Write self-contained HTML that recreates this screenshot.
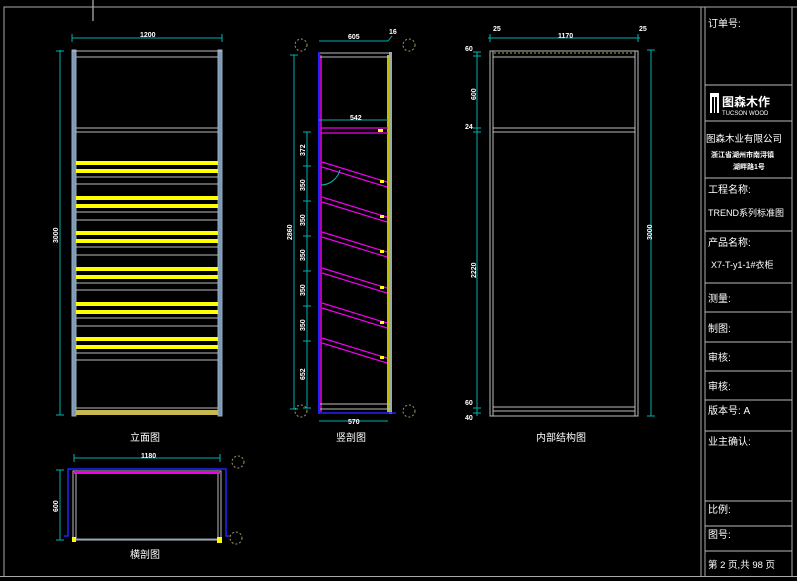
<!DOCTYPE html>
<html><head><meta charset="utf-8"><style>
html,body{margin:0;padding:0;background:#000;width:797px;height:581px;overflow:hidden}
svg{display:block}
text{font-family:"Liberation Sans","Noto Sans CJK SC",sans-serif;fill:#fff}
.d{font-size:7px;font-weight:bold}
.t{font-size:10px}
</style></head><body>
<svg width="797" height="581" viewBox="0 0 797 581" xmlns="http://www.w3.org/2000/svg">
<!-- frame -->
<g stroke="#aaa" stroke-width="1" fill="none">
<line x1="93" y1="0" x2="93" y2="21" stroke="#ddd"/>
<polyline points="4,577 4,7 797,7"/>
<line x1="0" y1="576.5" x2="797" y2="576.5"/>
<line x1="701" y1="7" x2="701" y2="577"/>
<line x1="705" y1="7" x2="705" y2="577"/>
<line x1="792" y1="7" x2="792" y2="577"/>
<g stroke="#bbb">
<line x1="705" y1="85" x2="792" y2="85"/><line x1="705" y1="121" x2="792" y2="121"/>
<line x1="705" y1="178" x2="792" y2="178"/><line x1="705" y1="231" x2="792" y2="231"/>
<line x1="705" y1="283" x2="792" y2="283"/><line x1="705" y1="312" x2="792" y2="312"/>
<line x1="705" y1="342" x2="792" y2="342"/><line x1="705" y1="371" x2="792" y2="371"/>
<line x1="705" y1="400" x2="792" y2="400"/><line x1="705" y1="431" x2="792" y2="431"/>
<line x1="705" y1="501" x2="792" y2="501"/><line x1="705" y1="526" x2="792" y2="526"/>
<line x1="705" y1="551" x2="792" y2="551"/>
</g></g>
<!-- title block text -->
<g class="t">
<text x="708" y="27">订单号:</text>
<rect x="710" y="93" width="9" height="20" fill="#fff"/>
<rect x="712" y="97" width="2" height="16" fill="#000"/><rect x="715" y="97" width="2" height="16" fill="#000"/>
<text x="722" y="106" style="font-size:12px;font-weight:bold">图森木作</text>
<text x="722" y="115" style="font-size:6px">TUCSON WOOD</text>
<text x="706" y="142" style="font-size:9.5px">图森木业有限公司</text>
<text x="711" y="157" style="font-size:7px;font-weight:bold">浙江省湖州市南浔镇</text>
<text x="733" y="169" style="font-size:7px;font-weight:bold">湖畔路1号</text>
<text x="708" y="193">工程名称:</text>
<text x="708" y="216" style="font-size:9px">TREND系列标准图</text>
<text x="708" y="246">产品名称:</text>
<text x="711" y="268" style="font-size:9px">X7-T-y1-1#衣柜</text>
<text x="708" y="302">测量:</text>
<text x="708" y="332">制图:</text>
<text x="708" y="361">审核:</text>
<text x="708" y="390">审核:</text>
<text x="708" y="414">版本号:  A</text>
<text x="708" y="445">业主确认:</text>
<text x="708" y="513">比例:</text>
<text x="708" y="538">图号:</text>
<text x="708" y="568" style="font-size:9.5px">第 2 页,共 98 页</text>
</g>

<!-- ELEVATION -->
<g fill="none">
<rect x="72" y="50" width="4" height="366" fill="#7a9ab8" stroke="#9ab"/>
<rect x="218" y="50" width="4" height="366" fill="#7a9ab8" stroke="#9ab"/>
<g stroke="#bbb">
<line x1="72" y1="51" x2="222" y2="51"/><line x1="76" y1="57" x2="218" y2="57"/>
<line x1="76" y1="128" x2="218" y2="128"/><line x1="76" y1="132" x2="218" y2="132"/>
<line x1="76" y1="177" x2="218" y2="177"/><line x1="76" y1="184" x2="218" y2="184"/>
<line x1="76" y1="212" x2="218" y2="212"/><line x1="76" y1="220" x2="218" y2="220"/>
<line x1="76" y1="247" x2="218" y2="247"/><line x1="76" y1="255" x2="218" y2="255"/>
<line x1="76" y1="283" x2="218" y2="283"/><line x1="76" y1="290" x2="218" y2="290"/>
<line x1="76" y1="318" x2="218" y2="318"/><line x1="76" y1="326" x2="218" y2="326"/>
<line x1="76" y1="353" x2="218" y2="353"/><line x1="76" y1="360" x2="218" y2="360"/>
<line x1="76" y1="408" x2="218" y2="408"/>
</g>
<g fill="#ff0">
<rect x="76" y="161" width="142" height="4"/><rect x="76" y="169" width="142" height="4"/>
<rect x="76" y="196" width="142" height="4"/><rect x="76" y="204" width="142" height="4"/>
<rect x="76" y="231" width="142" height="4"/><rect x="76" y="239" width="142" height="4"/>
<rect x="76" y="267" width="142" height="4"/><rect x="76" y="275" width="142" height="4"/>
<rect x="76" y="302" width="142" height="4"/><rect x="76" y="310" width="142" height="4"/>
<rect x="76" y="337" width="142" height="4"/><rect x="76" y="345" width="142" height="4"/>
</g>
<rect x="76" y="410" width="142" height="5" fill="#c8b850"/>
<g stroke="#00b0b0">
<line x1="72" y1="38" x2="222" y2="38"/><line x1="72" y1="34" x2="72" y2="42"/><line x1="222" y1="34" x2="222" y2="42"/>
<line x1="60" y1="50" x2="60" y2="415"/><line x1="56" y1="51" x2="64" y2="51"/><line x1="56" y1="415" x2="64" y2="415"/>
</g>
</g>
<text class="d" x="140" y="37">1200</text>
<text class="d" transform="translate(58,243) rotate(-90)">3000</text>
<text class="t" x="130" y="441">立面图</text>

<!-- SECTION -->
<g fill="none">
<line x1="319" y1="52" x2="319" y2="414" stroke="#22f" stroke-width="2"/>
<line x1="321" y1="55" x2="321" y2="412" stroke="#e0e" stroke-width="1.5"/>
<rect x="389" y="52" width="3" height="362" fill="#9aa"/>
<line x1="388" y1="55" x2="388" y2="412" stroke="#ff0" stroke-width="1.5"/>
<g stroke="#bbb"><line x1="320" y1="53" x2="390" y2="53"/><line x1="320" y1="57" x2="390" y2="57"/>
<line x1="320" y1="404" x2="390" y2="404"/><line x1="320" y1="409" x2="390" y2="409"/></g>
<line x1="318" y1="413" x2="396" y2="413" stroke="#22f" stroke-width="1.5"/>
<g stroke="#e0e" stroke-width="1.2">
<line x1="321" y1="128" x2="388" y2="128"/><line x1="321" y1="133" x2="388" y2="133"/>
<line x1="322" y1="162" x2="387" y2="182"/><line x1="322" y1="167" x2="387" y2="187"/>
<line x1="322" y1="197" x2="387" y2="217"/><line x1="322" y1="202" x2="387" y2="222"/>
<line x1="322" y1="232" x2="387" y2="252"/><line x1="322" y1="237" x2="387" y2="257"/>
<line x1="322" y1="268" x2="387" y2="288"/><line x1="322" y1="273" x2="387" y2="293"/>
<line x1="322" y1="303" x2="387" y2="323"/><line x1="322" y1="308" x2="387" y2="328"/>
<line x1="322" y1="338" x2="387" y2="358"/><line x1="322" y1="343" x2="387" y2="363"/>
</g>
<g fill="#ff0">
<rect x="380" y="180" width="4" height="3"/><rect x="380" y="215" width="4" height="3"/>
<rect x="380" y="250" width="4" height="3"/><rect x="380" y="286" width="4" height="3"/>
<rect x="380" y="321" width="4" height="3"/><rect x="380" y="356" width="4" height="3"/>
<rect x="378" y="129" width="5" height="3"/>
</g>
<path d="M321,185 A20,20 0 0 0 340,170" stroke="#0bb"/>
<g stroke="#00b0b0">
<line x1="319" y1="41" x2="388" y2="41"/><line x1="388" y1="41" x2="392" y2="36"/>
<line x1="319" y1="120" x2="388" y2="120"/>
<line x1="319" y1="421" x2="388" y2="421"/>
<line x1="294" y1="55" x2="294" y2="409"/><line x1="290" y1="55" x2="298" y2="55"/><line x1="290" y1="409" x2="298" y2="409"/>
<line x1="307" y1="132" x2="307" y2="408"/>
<line x1="303" y1="132" x2="311" y2="132"/><line x1="303" y1="166" x2="311" y2="166"/><line x1="303" y1="201" x2="311" y2="201"/>
<line x1="303" y1="236" x2="311" y2="236"/><line x1="303" y1="271" x2="311" y2="271"/><line x1="303" y1="306" x2="311" y2="306"/>
<line x1="303" y1="341" x2="311" y2="341"/><line x1="303" y1="408" x2="311" y2="408"/>
</g>
<g stroke="#996" stroke-dasharray="2,2">
<circle cx="301" cy="45" r="6"/><circle cx="409" cy="45" r="6"/><circle cx="301" cy="411" r="6"/><circle cx="409" cy="411" r="6"/>
</g>
</g>
<g class="d">
<text x="348" y="39">605</text><text x="389" y="34">16</text><text x="350" y="120">542</text><text x="348" y="424">570</text>
<text transform="translate(292,240) rotate(-90)">2860</text>
<text transform="translate(305,156) rotate(-90)">372</text>
<text transform="translate(305,191) rotate(-90)">350</text>
<text transform="translate(305,226) rotate(-90)">350</text>
<text transform="translate(305,261) rotate(-90)">350</text>
<text transform="translate(305,296) rotate(-90)">350</text>
<text transform="translate(305,331) rotate(-90)">350</text>
<text transform="translate(305,380) rotate(-90)">652</text>
</g>
<text class="t" x="336" y="441">竖剖图</text>

<!-- INNER STRUCTURE -->
<g fill="none" stroke="#bbb">
<rect x="490" y="51" width="148" height="365"/>
<line x1="493" y1="51" x2="493" y2="416"/><line x1="635" y1="51" x2="635" y2="416"/>
<line x1="493" y1="57" x2="635" y2="57"/>
<line x1="493" y1="128" x2="635" y2="128"/><line x1="493" y1="132" x2="635" y2="132"/>
<line x1="493" y1="407" x2="635" y2="407"/><line x1="493" y1="411" x2="635" y2="411"/>
<line x1="494" y1="53" x2="634" y2="53" stroke="#aa5" stroke-dasharray="2,2"/>
</g>
<g stroke="#00b0b0" fill="none">
<line x1="488" y1="38" x2="640" y2="38"/><line x1="490" y1="34" x2="490" y2="42"/><line x1="638" y1="34" x2="638" y2="42"/>
<line x1="651" y1="50" x2="651" y2="416"/><line x1="647" y1="50" x2="655" y2="50"/><line x1="647" y1="416" x2="655" y2="416"/>
<line x1="477" y1="52" x2="477" y2="416"/>
<line x1="473" y1="52" x2="481" y2="52"/><line x1="473" y1="56" x2="481" y2="56"/>
<line x1="473" y1="128" x2="481" y2="128"/><line x1="473" y1="132" x2="481" y2="132"/>
<line x1="473" y1="408" x2="481" y2="408"/><line x1="473" y1="413" x2="481" y2="413"/>
</g>
<g class="d">
<text x="558" y="38">1170</text><text x="493" y="31">25</text><text x="639" y="31">25</text>
<text x="465" y="51">60</text><text x="465" y="129">24</text><text x="465" y="405">60</text><text x="465" y="420">40</text>
<text transform="translate(476,100) rotate(-90)">600</text>
<text transform="translate(476,278) rotate(-90)">2220</text>
<text transform="translate(652,240) rotate(-90)">3000</text>
</g>
<text class="t" x="536" y="441">内部结构图</text>

<!-- PLAN -->
<g fill="none">
<polyline points="64,536 68,536 68,469 226,469 226,536 230,536" stroke="#22f" stroke-width="1.5"/>
<rect x="73" y="471" width="148" height="69" stroke="#bbb"/>
<line x1="76" y1="472" x2="76" y2="540" stroke="#bbb"/><line x1="218" y1="472" x2="218" y2="540" stroke="#bbb"/>
<line x1="74" y1="473" x2="220" y2="473" stroke="#e0e" stroke-width="2"/>
<line x1="74" y1="539" x2="220" y2="539" stroke="#79a"/>
<g stroke="#00b0b0">
<line x1="74" y1="458" x2="220" y2="458"/><line x1="74" y1="454" x2="74" y2="462"/><line x1="220" y1="454" x2="220" y2="462"/>
<line x1="60" y1="470" x2="60" y2="540"/><line x1="56" y1="470" x2="64" y2="470"/><line x1="56" y1="540" x2="64" y2="540"/>
</g>
<g stroke="#996" stroke-dasharray="2,2"><circle cx="238" cy="462" r="6"/><circle cx="236" cy="538" r="6"/></g>
</g>
<rect x="72" y="537" width="4" height="5" fill="#ff0"/><rect x="217" y="537" width="5" height="6" fill="#ff0"/>
<text class="d" x="141" y="458">1180</text>
<text class="d" transform="translate(58,512) rotate(-90)">600</text>
<text class="t" x="130" y="558">横剖图</text>
</svg>
</body></html>
